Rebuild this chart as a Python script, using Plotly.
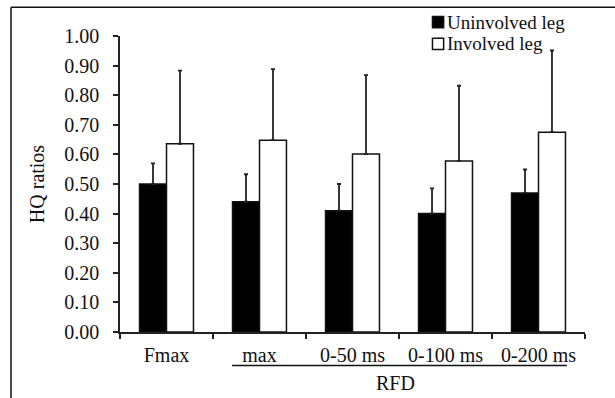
import plotly.graph_objects as go

categories = ["Fmax", "max", "0-50 ms", "0-100 ms", "0-200 ms"]
series_names = ["Uninvolved leg", "Involved leg"]
uninvolved = [0.50, 0.44, 0.41, 0.40, 0.47]
uninvolved_err = [0.07, 0.093, 0.09, 0.085, 0.079]
involved = [0.636, 0.648, 0.601, 0.578, 0.675]
involved_err = [0.247, 0.24, 0.267, 0.254, 0.276]
y_ticks = [0.0, 0.1, 0.2, 0.3, 0.4, 0.5, 0.6, 0.7, 0.8, 0.9, 1.0]
group_label = "RFD"

FONT = "Liberation Serif, Times New Roman, serif"
TXT = "#111111"
LINE = "#222222"
fills = ["#000000", "#ffffff"]

fig = go.Figure()
for name, vals, errs, fill in zip(series_names, [uninvolved, involved],
                                  [uninvolved_err, involved_err], fills):
    fig.add_trace(go.Bar(
        name=name, x=categories, y=vals, showlegend=False,
        marker=dict(color=fill, line=dict(color="#111111", width=1.5)),
        error_y=dict(type="data", symmetric=False, array=errs,
                     arrayminus=[0] * len(errs),
                     color=LINE, thickness=1.8, width=2),
    ))

# custom legend (square swatch right next to text, like the original)
legend_shapes = []
legend_annots = []
row_y = [1.047, 0.973]
for name, fill, yc in zip(series_names, fills, row_y):
    legend_shapes.append(dict(type="rect", xref="paper", yref="paper",
                              x0=0.672, x1=0.696, y0=yc - 0.019, y1=yc + 0.019,
                              fillcolor=fill, line=dict(color="#111111", width=1.5)))
    legend_annots.append(dict(text=name, xref="paper", yref="paper",
                              x=0.699, y=yc, xanchor="left", yanchor="middle",
                              showarrow=False,
                              font=dict(family=FONT, size=19, color=TXT)))

fig.update_layout(
    width=615, height=398,
    margin=dict(l=120, r=30, t=36, b=66),
    paper_bgcolor="white", plot_bgcolor="white",
    barmode="group", bargap=0.42, bargroupgap=0,
    showlegend=False,
    font=dict(family=FONT, size=20, color=TXT),
    xaxis=dict(type="category", showline=True, linecolor=LINE, linewidth=1.7,
               ticks="outside", tickson="boundaries", ticklen=5, tickwidth=1.7,
               tickcolor=LINE, showgrid=False, ticklabelstandoff=4,
               tickfont=dict(family=FONT, size=20, color=TXT)),
    yaxis=dict(range=[0, 1], tickvals=y_ticks, tickformat=".2f",
               showline=True, linecolor=LINE, linewidth=1.7,
               ticks="outside", ticklen=5, tickwidth=1.7, tickcolor=LINE,
               showgrid=False, zeroline=False, ticklabelstandoff=10,
               tickfont=dict(family=FONT, size=20, color=TXT),
               title=dict(text="HQ ratios", standoff=14,
                          font=dict(family=FONT, size=20, color=TXT))),
    shapes=[
        # frame (top and left edges of the figure box)
        dict(type="line", xref="paper", yref="paper", x0=-0.2344, x1=1.07,
             y0=1.097, y1=1.097, line=dict(color="#111111", width=1.5)),
        dict(type="line", xref="paper", yref="paper", x0=-0.2344, x1=-0.2344,
             y0=1.097, y1=-0.23, line=dict(color="#111111", width=1.5)),
        # RFD grouping underline
        dict(type="line", xref="paper", yref="paper", x0=0.241, x1=0.961,
             y0=-0.113, y1=-0.113, line=dict(color="#111111", width=1.5)),
    ] + legend_shapes,
    annotations=[
        dict(text=group_label, xref="paper", yref="paper", x=0.592, y=-0.172,
             showarrow=False, font=dict(family=FONT, size=20, color=TXT),
             xanchor="center", yanchor="middle"),
    ] + legend_annots,
)

fig.write_html("out.html", config={"displayModeBar": False},
               post_script="document.body.style.margin='0';")
